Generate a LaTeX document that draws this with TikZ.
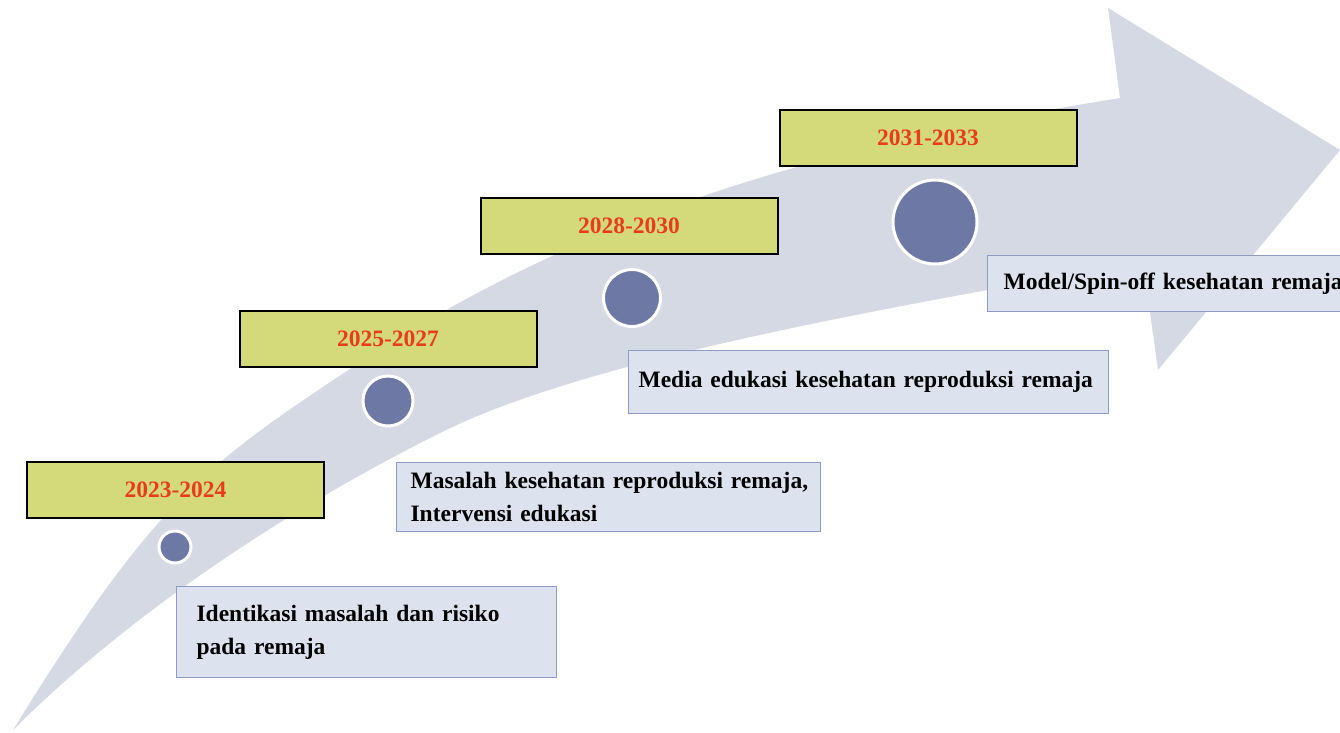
\documentclass[tikz,border=0pt]{standalone}
\usepackage{fontspec}
\setmainfont{Liberation Serif}
\definecolor{arrowfill}{RGB}{213,217,227}
\definecolor{yearfill}{RGB}{212,217,122}
\definecolor{yearred}{RGB}{232,60,28}
\definecolor{dotfill}{RGB}{110,120,164}
\definecolor{descfill}{RGB}{220,227,238}
\definecolor{descline}{RGB}{142,156,196}
\begin{document}
\begin{tikzpicture}[x=1pt,y=-1pt,
  yearbox/.style={draw=black, line width=2pt, fill=yearfill, text=yearred,
    font=\bfseries\fontsize{23.5}{28}\selectfont,
    minimum width=297pt, minimum height=56pt, inner sep=0pt},
  dot/.style={circle, draw=white, line width=3pt, fill=dotfill, inner sep=0pt},
  desc/.style={draw=descline, line width=1.2pt, fill=descfill, anchor=north west,
    align=left, font=\bfseries\fontsize{23.5}{33}\selectfont, inner ysep=0pt}
]
\useasboundingbox (0,0) rectangle (1340,732);
\clip (0,0) rectangle (1340,732);

% curved timeline arrow: upper edge, head, lower edge back to the tail point
\fill[arrowfill] (13,730)
  .. controls (153,503) and (203,466) .. (353,367)
  .. controls (553,235) and (770,154) .. (1120,98)
  -- (1108,8) -- (1340,150) -- (1158,370) -- (1143,262)
  .. controls (893,307) and (590,358) .. (440,433)
  .. controls (260,523) and (112,631) .. (13,730)
  -- cycle;

% year labels
\node[yearbox] (y1) at (175.5,490) {2023-2024};
\node[yearbox] (y2) at (388,338.5) {2025-2027};
\node[yearbox] (y3) at (629,226) {2028-2030};
\node[yearbox] (y4) at (928,138) {2031-2033};

% milestones
\node[dot, minimum size=32pt] (c1) at (175,547) {};
\node[dot, minimum size=50pt] (c2) at (388,401) {};
\node[dot, minimum size=57pt] (c3) at (632,298) {};
\node[dot, minimum size=84pt] (c4) at (935,222) {};

% descriptions
\node[desc, text width=340pt, inner xsep=20pt, minimum height=91pt] (d1) at (176,586)
  {Identikasi masalah dan risiko\\pada remaja};
\node[desc, text width=396pt, inner xsep=14pt, minimum height=69pt] (d2) at (396,462)
  {\mbox{Masalah kesehatan reproduksi remaja,}\\Intervensi edukasi};
\node[desc, text width=460pt, inner xsep=10pt, minimum height=63pt] (d3) at (628,350)
  {Media edukasi kesehatan reproduksi remaja};
\node[desc, text width=360pt, inner xsep=16pt, minimum height=56pt] (d4) at (987,255)
  {Model/Spin-off kesehatan remaja};
\end{tikzpicture}
\end{document}
